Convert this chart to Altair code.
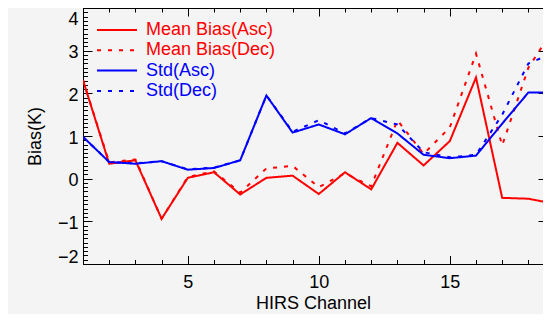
import altair as alt
import pandas as pd

# ---------------- data ----------------
channels = list(range(1, 20))
mean_bias_asc = [2.31, 0.35, 0.43, -0.94, 0.02, 0.15, -0.37, 0.02, 0.07, -0.36,
                 0.15, -0.25, 0.84, 0.31, 0.88, 2.37, -0.45, -0.47, -0.59]
mean_bias_dec = [2.31, 0.38, 0.45, -0.94, 0.04, 0.17, -0.33, 0.24, 0.30, -0.20,
                 0.13, -0.18, 1.37, 0.58, 1.20, 2.93, 0.78, 2.60, 3.55]
std_asc = [0.98, 0.39, 0.35, 0.41, 0.21, 0.25, 0.43, 1.95, 1.08, 1.27,
           1.04, 1.42, 1.06, 0.56, 0.48, 0.54, 1.29, 2.02, 2.02]
std_dec = [0.98, 0.39, 0.36, 0.41, 0.22, 0.26, 0.43, 1.95, 1.10, 1.37,
           1.06, 1.42, 1.27, 0.62, 0.50, 0.56, 1.50, 2.70, 2.96]

series_names = ["Mean Bias(Asc)", "Mean Bias(Dec)", "Std(Asc)", "Std(Dec)"]
series_values = [mean_bias_asc, mean_bias_dec, std_asc, std_dec]
series_colors = ["#ff0000", "#ff0000", "#0000ff", "#0000ff"]
series_dashes = [[1, 0], [4, 7], [1, 0], [4, 7]]

x_major = [5, 10, 15]
x_minor = channels
y_major = [-2, -1, 0, 1, 2, 3, 4]
y_minor = [round(-2 + 0.1 * i, 1) for i in range(61)]

rows = []
for name, vals in zip(series_names, series_values):
    for c, v in zip(channels, vals):
        rows.append({"channel": c, "value": v, "series": name})
df = pd.DataFrame(rows)

# ---------------- layout ----------------
W, H = 460, 256
FONT = "Liberation Sans"
xscale = alt.Scale(domain=[1, 1 + W / 26.2], nice=False, zero=False)
yscale = alt.Scale(domain=[-2, 4], nice=False, zero=False)

legend = alt.Legend(
    orient="none", legendX=23, legendY=11, title=None,
    symbolType="M-2,0L2,0", symbolSize=400, symbolStrokeWidth=2,
    labelFont=FONT, labelFontSize=18, labelOffset=18, rowPadding=0.3,
    padding=0, labelLimit=300,
    labelColor=alt.ExprRef(expr="indexof(datum.label, 'Mean') >= 0 ? '#ff0000' : '#0000ff'"),
)

base = alt.Chart(df)

lines = base.mark_line(strokeWidth=2, clip=True).encode(
    x=alt.X("channel:Q", scale=xscale, axis=alt.Axis(
        orient="bottom", values=x_major, tickSize=0, domain=True, domainColor="black",
        grid=False, labelFont=FONT, labelFontSize=18, labelColor="black", labelPadding=9,
        title="HIRS Channel", titleFont=FONT, titleFontSize=18, titleFontWeight="normal",
        titleColor="black", titlePadding=3)),
    y=alt.Y("value:Q", scale=yscale, axis=alt.Axis(
        orient="left", values=y_major, tickSize=0, domain=True, domainColor="black",
        grid=False, labelFont=FONT, labelFontSize=18, labelColor="black", labelPadding=5,
        labelFlush=True, labelOffset=2,
        title="Bias(K)", titleFont=FONT, titleFontSize=18, titleFontWeight="normal",
        titleColor="black", titleX=-43, titleY=H / 2, titleBaseline="alphabetic")),
    color=alt.Color("series:N", scale=alt.Scale(domain=series_names, range=series_colors),
                    legend=legend),
    strokeDash=alt.StrokeDash("series:N", scale=alt.Scale(domain=series_names, range=series_dashes),
                              legend=legend),
)


def tick_layer(x_orient, x_offset, x_vals, x_size, y_orient, y_offset, y_vals, y_size, x_domain=False):
    return base.mark_point(opacity=0).encode(
        x=alt.X("channel:Q", scale=xscale, axis=alt.Axis(
            orient=x_orient, offset=x_offset, values=x_vals, tickSize=x_size,
            tickColor="black", labels=False, domain=x_domain, domainColor="black",
            grid=False, title=None)),
        y=alt.Y("value:Q", scale=yscale, axis=alt.Axis(
            orient=y_orient, offset=y_offset, values=y_vals, tickSize=y_size,
            tickColor="black", labels=False, domain=False, grid=False, title=None)),
    )


# bottom edge & left edge, inward ticks
t1 = tick_layer("top", -H, x_minor, 4.5, "right", -W, y_minor, 4.5)
t2 = tick_layer("top", -H, x_major, 8.5, "right", -W, y_major, 9)
# top edge & (clipped) right edge, inward ticks
t3 = tick_layer("bottom", -H, x_minor, 4, "left", -(W + 4), y_minor, 4, x_domain=True)
t4 = tick_layer("bottom", -H, x_major, 8, "left", -(W + 4), y_major, 9)

chart = (
    alt.layer(lines, t1, t2, t3, t4)
    .resolve_axis(x="independent", y="independent")
    .properties(
        width=W, height=H,
        autosize=alt.AutoSizeParams(type="none"),
        padding={"left": 75, "top": 0, "right": 0, "bottom": 50},
        background="#f4f4f4",
    )
    .configure_view(strokeWidth=0)
)

chart.save("out.html", embed_options={"renderer": "svg", "actions": False})
